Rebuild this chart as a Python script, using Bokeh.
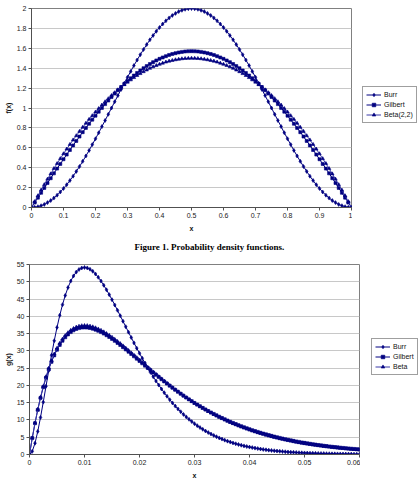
from bokeh.plotting import figure
from bokeh.models import Legend, LegendItem, FixedTicker, Title
from bokeh.layouts import column, row
from bokeh.embed import file_html
from bokeh.resources import INLINE

# ---------------- data: figure 1 (top) ----------------
x_f = [0.00, 0.01, 0.02, 0.03, 0.04, 0.05, 0.06, 0.07, 0.08, 0.09,
       0.10, 0.11, 0.12, 0.13, 0.14, 0.15, 0.16, 0.17, 0.18, 0.19,
       0.20, 0.21, 0.22, 0.23, 0.24, 0.25, 0.26, 0.27, 0.28, 0.29,
       0.30, 0.31, 0.32, 0.33, 0.34, 0.35, 0.36, 0.37, 0.38, 0.39,
       0.40, 0.41, 0.42, 0.43, 0.44, 0.45, 0.46, 0.47, 0.48, 0.49,
       0.50, 0.51, 0.52, 0.53, 0.54, 0.55, 0.56, 0.57, 0.58, 0.59,
       0.60, 0.61, 0.62, 0.63, 0.64, 0.65, 0.66, 0.67, 0.68, 0.69,
       0.70, 0.71, 0.72, 0.73, 0.74, 0.75, 0.76, 0.77, 0.78, 0.79,
       0.80, 0.81, 0.82, 0.83, 0.84, 0.85, 0.86, 0.87, 0.88, 0.89,
       0.90, 0.91, 0.92, 0.93, 0.94, 0.95, 0.96, 0.97, 0.98, 0.99, 1.00]

burr_f = [0, 0.002, 0.008, 0.018, 0.031, 0.049, 0.070, 0.095, 0.124, 0.156,
          0.191, 0.229, 0.271, 0.315, 0.363, 0.412, 0.464, 0.518, 0.574, 0.632,
          0.691, 0.751, 0.813, 0.875, 0.937, 1.000, 1.063, 1.125, 1.187, 1.249,
          1.309, 1.368, 1.426, 1.482, 1.536, 1.588, 1.637, 1.685, 1.729, 1.771,
          1.809, 1.844, 1.876, 1.905, 1.930, 1.951, 1.969, 1.982, 1.992, 1.998,
          2.000, 1.998, 1.992, 1.982, 1.969, 1.951, 1.930, 1.905, 1.876, 1.844,
          1.809, 1.771, 1.729, 1.685, 1.637, 1.588, 1.536, 1.482, 1.426, 1.368,
          1.309, 1.249, 1.187, 1.125, 1.063, 1.000, 0.937, 0.875, 0.813, 0.751,
          0.691, 0.632, 0.574, 0.518, 0.464, 0.412, 0.363, 0.315, 0.271, 0.229,
          0.191, 0.156, 0.124, 0.095, 0.070, 0.049, 0.031, 0.018, 0.008, 0.002, 0]

gilbert_f = [0, 0.049, 0.099, 0.148, 0.197, 0.246, 0.294, 0.343, 0.391, 0.438,
             0.485, 0.532, 0.578, 0.624, 0.669, 0.713, 0.757, 0.800, 0.842, 0.883,
             0.923, 0.963, 1.001, 1.039, 1.075, 1.111, 1.145, 1.178, 1.210, 1.241,
             1.271, 1.299, 1.326, 1.352, 1.377, 1.400, 1.421, 1.442, 1.461, 1.478,
             1.494, 1.508, 1.521, 1.533, 1.543, 1.551, 1.558, 1.564, 1.568, 1.570,
             1.571, 1.570, 1.568, 1.564, 1.558, 1.551, 1.543, 1.533, 1.521, 1.508,
             1.494, 1.478, 1.461, 1.442, 1.421, 1.400, 1.377, 1.352, 1.326, 1.299,
             1.271, 1.241, 1.210, 1.178, 1.145, 1.111, 1.075, 1.039, 1.001, 0.963,
             0.923, 0.883, 0.842, 0.800, 0.757, 0.713, 0.669, 0.624, 0.578, 0.532,
             0.485, 0.438, 0.391, 0.343, 0.294, 0.246, 0.197, 0.148, 0.099, 0.049, 0]

beta22_f = [0, 0.059, 0.118, 0.175, 0.230, 0.285, 0.338, 0.391, 0.442, 0.491,
            0.540, 0.587, 0.634, 0.679, 0.722, 0.765, 0.806, 0.847, 0.886, 0.923,
            0.960, 0.995, 1.030, 1.063, 1.094, 1.125, 1.154, 1.183, 1.210, 1.235,
            1.260, 1.283, 1.306, 1.327, 1.346, 1.365, 1.382, 1.399, 1.414, 1.427,
            1.440, 1.451, 1.462, 1.471, 1.478, 1.485, 1.490, 1.495, 1.498, 1.499,
            1.500, 1.499, 1.498, 1.495, 1.490, 1.485, 1.478, 1.471, 1.462, 1.451,
            1.440, 1.427, 1.414, 1.399, 1.382, 1.365, 1.346, 1.327, 1.306, 1.283,
            1.260, 1.235, 1.210, 1.183, 1.154, 1.125, 1.094, 1.063, 1.030, 0.995,
            0.960, 0.923, 0.886, 0.847, 0.806, 0.765, 0.722, 0.679, 0.634, 0.587,
            0.540, 0.491, 0.442, 0.391, 0.338, 0.285, 0.230, 0.175, 0.118, 0.059, 0]

x_ticks_f = [0, 0.1, 0.2, 0.3, 0.4, 0.5, 0.6, 0.7, 0.8, 0.9, 1]
x_labels_f = ["0", "0.1", "0.2", "0.3", "0.4", "0.5", "0.6", "0.7", "0.8", "0.9", "1"]
y_ticks_f = [0, 0.2, 0.4, 0.6, 0.8, 1, 1.2, 1.4, 1.6, 1.8, 2]
y_labels_f = ["0", "0.2", "0.4", "0.6", "0.8", "1", "1.2", "1.4", "1.6", "1.8", "2"]
names_f = ["Burr", "Gilbert", "Beta(2,2)"]

# ---------------- data: g(x) (bottom) ----------------
x_g = [0.0000, 0.0005, 0.0010, 0.0015, 0.0020, 0.0025, 0.0030, 0.0035, 0.0040, 0.0045,
       0.0050, 0.0055, 0.0060, 0.0065, 0.0070, 0.0075, 0.0080, 0.0085, 0.0090, 0.0095,
       0.0100, 0.0105, 0.0110, 0.0115, 0.0120, 0.0125, 0.0130, 0.0135, 0.0140, 0.0145,
       0.0150, 0.0155, 0.0160, 0.0165, 0.0170, 0.0175, 0.0180, 0.0185, 0.0190, 0.0195,
       0.0200, 0.0205, 0.0210, 0.0215, 0.0220, 0.0225, 0.0230, 0.0235, 0.0240, 0.0245,
       0.0250, 0.0255, 0.0260, 0.0265, 0.0270, 0.0275, 0.0280, 0.0285, 0.0290, 0.0295,
       0.0300, 0.0305, 0.0310, 0.0315, 0.0320, 0.0325, 0.0330, 0.0335, 0.0340, 0.0345,
       0.0350, 0.0355, 0.0360, 0.0365, 0.0370, 0.0375, 0.0380, 0.0385, 0.0390, 0.0395,
       0.0400, 0.0405, 0.0410, 0.0415, 0.0420, 0.0425, 0.0430, 0.0435, 0.0440, 0.0445,
       0.0450, 0.0455, 0.0460, 0.0465, 0.0470, 0.0475, 0.0480, 0.0485, 0.0490, 0.0495,
       0.0500, 0.0505, 0.0510, 0.0515, 0.0520, 0.0525, 0.0530, 0.0535, 0.0540, 0.0545,
       0.0550, 0.0555, 0.0560, 0.0565, 0.0570, 0.0575, 0.0580, 0.0585, 0.0590, 0.0595,
       0.0600]

burr_g = [0, 0.905, 3.275, 6.667, 10.725, 15.163, 19.757, 24.333, 28.757, 32.932,
          36.788, 40.277, 43.371, 46.058, 48.334, 50.204, 51.686, 52.795, 53.557, 53.995,
          54.134, 54.005, 53.627, 53.038, 52.255, 51.300, 50.207, 48.996, 47.675, 46.272,
          44.811, 43.293, 41.738, 40.162, 38.576, 36.995, 35.407, 33.842, 32.302, 30.785,
          29.312, 27.854, 26.460, 25.091, 23.774, 22.498, 21.266, 20.102, 18.962, 17.887,
          16.850, 15.866, 14.926, 14.017, 13.180, 12.372, 11.603, 10.884, 10.193, 9.538,
          8.928, 8.346, 7.801, 7.289, 6.806, 6.352, 5.926, 5.526, 5.150, 4.798,
          4.468, 4.159, 3.870, 3.600, 3.347, 3.111, 2.891, 2.685, 2.493, 2.314,
          2.147, 1.992, 1.847, 1.712, 1.587, 1.470, 1.362, 1.261, 1.167, 1.080,
          1.000, 0.925, 0.855, 0.791, 0.731, 0.676, 0.624, 0.577, 0.533, 0.492,
          0.454, 0.419, 0.387, 0.357, 0.329, 0.304, 0.280, 0.258, 0.238, 0.219,
          0.202, 0.186, 0.172, 0.158, 0.146, 0.134, 0.123, 0.114, 0.105, 0.096,
          0.089]

gilbert_g = [0, 4.756, 9.048, 12.911, 16.375, 19.470, 22.225, 24.664, 26.813, 28.693,
             30.327, 31.732, 32.929, 33.933, 34.761, 35.428, 35.946, 36.330, 36.591, 36.740,
             36.788, 36.744, 36.616, 36.414, 36.143, 35.813, 35.429, 34.997, 34.524, 34.013,
             33.470, 32.899, 32.304, 31.688, 31.056, 30.410, 29.754, 29.089, 28.418, 27.743,
             27.068, 26.390, 25.717, 25.043, 24.376, 23.715, 23.060, 22.412, 21.773, 21.141,
             20.520, 19.910, 19.310, 18.722, 18.147, 17.581, 17.027, 16.484, 15.956, 15.440,
             14.937, 14.445, 13.966, 13.498, 13.043, 12.600, 12.170, 11.752, 11.346, 10.954,
             10.570, 10.196, 9.835, 9.486, 9.146, 8.820, 8.501, 8.193, 7.894, 7.608,
             7.328, 7.055, 6.794, 6.545, 6.300, 6.065, 5.835, 5.616, 5.403, 5.198,
             5.000, 4.809, 4.623, 4.445, 4.277, 4.109, 3.950, 3.798, 3.651, 3.505,
             3.370, 3.237, 3.111, 2.987, 2.870, 2.756, 2.645, 2.541, 2.441, 2.344,
             2.250, 2.159, 2.072, 1.989, 1.910, 1.829, 1.757, 1.685, 1.617, 1.553,
             1.488]

beta_g = [0, 4.81, 9.15, 13.06, 16.57, 19.71, 22.51, 24.98, 27.17, 29.08,
          30.75, 32.18, 33.40, 34.43, 35.27, 35.95, 36.48, 36.87, 37.14, 37.29,
          37.34, 37.30, 37.16, 36.96, 36.68, 36.34, 35.95, 35.50, 35.01, 34.49,
          33.94, 33.35, 32.73, 32.10, 31.45, 30.79, 30.11, 29.42, 28.73, 28.04,
          27.34, 26.64, 25.95, 25.26, 24.57, 23.89, 23.21, 22.55, 21.89, 21.24,
          20.60, 19.97, 19.35, 18.75, 18.16, 17.58, 17.01, 16.45, 15.91, 15.38,
          14.85, 14.35, 13.86, 13.38, 12.92, 12.46, 12.02, 11.59, 11.18, 10.78,
          10.39, 10.01, 9.64, 9.29, 8.94, 8.61, 8.29, 7.97, 7.67, 7.38,
          7.10, 6.82, 6.56, 6.31, 6.07, 5.83, 5.60, 5.38, 5.17, 4.96,
          4.76, 4.57, 4.39, 4.21, 4.04, 3.88, 3.72, 3.57, 3.43, 3.28,
          3.15, 3.02, 2.89, 2.77, 2.66, 2.55, 2.44, 2.34, 2.24, 2.15,
          2.05, 1.97, 1.88, 1.80, 1.73, 1.65, 1.58, 1.51, 1.45, 1.39,
          1.33]

x_ticks_g = [0, 0.01, 0.02, 0.03, 0.04, 0.05, 0.06]
x_labels_g = ["0", "0.01", "0.02", "0.03", "0.04", "0.05", "0.06"]
y_ticks_g = [0, 5, 10, 15, 20, 25, 30, 35, 40, 45, 50, 55]
y_labels_g = ["0", "5", "10", "15", "20", "25", "30", "35", "40", "45", "50", "55"]
names_g = ["Burr", "Gilbert", "Beta"]

caption = "Figure 1. Probability density functions."

FONT = "Liberation Sans"
NAVY = "#000080"
LINE_COLORS = [NAVY, NAVY, "#3a3aa8"]
MARKERS = ["diamond", "square", "triangle"]
MSIZES = [4, 3, 3.5]


def build(x, series, xr, yr, xt, xl, yt, yl, ylabel, fw, fh, bl, bt, bb):
    p = figure(frame_width=fw, frame_height=fh, x_range=xr, y_range=yr,
               output_backend="svg", toolbar_location=None,
               min_border_left=bl, min_border_right=1,
               min_border_top=bt, min_border_bottom=bb)
    p.background_fill_color = "white"
    p.border_fill_color = "white"
    p.outline_line_color = "#808080"
    p.outline_line_width = 1

    for ys, lc, mk, ms in zip(series, LINE_COLORS, MARKERS, MSIZES):
        p.line(x, ys, line_color=lc, line_width=1)
        p.scatter(x, ys, marker=mk, size=ms, fill_color=NAVY, line_color=NAVY,
                  line_width=0.6)

    p.xaxis.ticker = FixedTicker(ticks=xt)
    p.yaxis.ticker = FixedTicker(ticks=yt)
    p.xaxis.major_label_overrides = dict(zip(xt, xl))
    p.yaxis.major_label_overrides = dict(zip(yt, yl))
    p.xgrid.visible = False
    p.ygrid.ticker = FixedTicker(ticks=yt)
    p.ygrid.grid_line_color = "#c8c8c8"
    p.ygrid.grid_line_width = 1

    for ax in (p.xaxis[0], p.yaxis[0]):
        ax.axis_line_color = "#505050"
        ax.major_tick_line_color = "#505050"
        ax.major_tick_in = 0
        ax.major_tick_out = 3
        ax.minor_tick_line_color = None
        ax.major_label_text_font = FONT
        ax.major_label_text_font_size = "7px"
        ax.major_label_text_color = "#222222"
        ax.major_label_standoff = 2
        ax.axis_label_text_font = FONT
        ax.axis_label_text_font_size = "7px"
        ax.axis_label_text_font_style = "bold"
        ax.axis_label_text_color = "#111111"
    p.xaxis.axis_label = "x"
    p.xaxis.axis_label_standoff = 4
    p.yaxis.axis_label = ylabel
    p.yaxis.axis_label_standoff = 2
    return p


def legend_panel(names, w, h, loc):
    lp = figure(width=w, height=h, x_axis_type=None, y_axis_type=None,
                x_range=(0, 1), y_range=(0, 1),
                output_backend="svg", toolbar_location=None,
                min_border_left=0, min_border_right=0,
                min_border_top=0, min_border_bottom=0)
    lp.outline_line_color = None
    lp.background_fill_color = "white"
    lp.border_fill_color = "white"
    lp.xgrid.visible = False
    lp.ygrid.visible = False
    items = []
    for name, lc, mk, ms in zip(names, LINE_COLORS, MARKERS, MSIZES):
        # legend key renderers; their single point lies outside the visible range
        ln = lp.line([-5, -4], [-5, -4], line_color=lc, line_width=1)
        sc = lp.scatter([-5], [-5], marker=mk, size=ms + 0.5, fill_color=NAVY,
                        line_color=NAVY, line_width=0.6)
        items.append(LegendItem(label=name, renderers=[ln, sc]))
    legend = Legend(items=items, location=loc, padding=3, spacing=1, margin=0,
                    glyph_width=15, glyph_height=9, label_height=9, label_standoff=3,
                    label_text_font=FONT, label_text_font_size="7px",
                    label_text_color="#111111",
                    border_line_color="#404040", border_line_width=1,
                    background_fill_color="white", background_fill_alpha=1.0)
    lp.add_layout(legend)
    return lp


p1 = build(x_f, [burr_f, gilbert_f, beta22_f], (0, 1), (0, 2),
           x_ticks_f, x_labels_f, y_ticks_f, y_labels_f, "f(x)",
           320, 199, 31, 8, 49)
p1.add_layout(Title(text=caption, align="left", offset=103,
                    text_font="Liberation Serif", text_font_size="9px",
                    text_font_style="bold", text_color="black"), "below")
l1 = legend_panel(names_f, 66, 256, (10, 84))

p2 = build(x_g, [burr_g, gilbert_g, beta_g], (0, 0.06), (0, 55),
           x_ticks_g, x_labels_g, y_ticks_g, y_labels_g, "g(x)",
           330, 190, 29, 8, 29)
l2 = legend_panel(names_g, 58, 227, (11, 79))

layout = column(row(p1, l1, spacing=0), row(p2, l2, spacing=0), spacing=0)
open("out.html", "w").write(file_html(layout, INLINE))
